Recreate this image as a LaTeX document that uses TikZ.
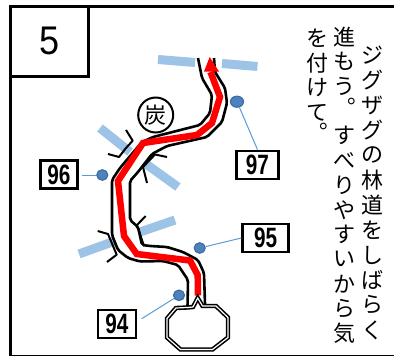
\documentclass[tikz,border=0pt]{standalone}
\usepackage{fontspec}
\usetikzlibrary{arrows.meta,shapes.geometric}
\setmainfont{Liberation Sans}
\newfontfamily\jpfont{Noto Sans CJK JP}
\definecolor{barblue}{HTML}{9DC3E6}
\definecolor{dotfill}{HTML}{4F81BD}
\definecolor{dotline}{HTML}{3A6EA5}
\definecolor{leader}{HTML}{5B9BD5}
\tikzset{
  frameline/.style={draw=black,line width=3pt,line join=miter},
  bar/.style={draw=barblue,line width=9pt},
  roadedge/.style={draw=black,line width=2.6pt,line join=round,rounded corners=2pt},
  tick/.style={draw=black,line width=2pt,line join=round},
  dot/.style={ellipse,fill=dotfill,draw=dotline,line width=1.2pt,inner sep=0pt,minimum width=11pt,minimum height=10.5pt},
  leaderline/.style={draw=leader,line width=1pt},
  numbox/.style={draw=black,line width=2.6pt,fill=white,inner sep=0pt,minimum height=28pt,
     font=\fontsize{28}{28}\selectfont\bfseries},
  vchar/.style={inner sep=0pt,font=\jpfont\fontsize{22}{22}\selectfont},
}
\begin{document}
\begin{tikzpicture}[x=1pt,y=-1pt]
\useasboundingbox (0,0) rectangle (394,356);
\clip (0,0) rectangle (394,356);
% frame
\draw[frameline] (10.5,6) rectangle (402,356.5);
\draw[frameline] (10.5,76) -| (88,6);
\node[font=\fontsize{40}{40}\selectfont] (five) at (50,41) {\scalebox{0.9}[1]{5}};
% blue bars
\draw[bar] (158,59.5) -- (195,62.5);
\draw[bar] (222,63.5) -- (257.5,66.5);
\draw[bar] (100,128) -- (130,152);
\draw[bar] (146,164) -- (178,187);
\draw[bar] (79,254) -- (115,241);
\draw[bar] (140,232) -- (175,220);
% road
\fill[white] (187.5,307) -- (188,280) -- (178,265) -- (163,261) -- (140,261.5) -- (128,258) -- (118,250) -- (112,235) -- (112,180) -- (120,168) -- (142,142) -- (153,137) -- (200,125) -- (210,113) -- (212,95) -- (202,78) -- (198,58) -- (214,58) -- (215,72) -- (225,88) -- (227,103) -- (222,122) -- (207,137) -- (167,146) -- (152,154) -- (138,172) -- (130,181) -- (130,220) -- (138,227) -- (142,245) -- (150,246) -- (167,247) -- (183,252) -- (198,260) -- (204,273) -- (205,304) -- cycle;
\draw[roadedge] (187.5,307) -- (188,280) -- (178,265) -- (163,261) -- (140,261.5) -- (128,258) -- (118,250) -- (112,235) -- (112,180) -- (120,168) -- (142,142) -- (153,137) -- (200,125) -- (210,113) -- (212,95) -- (202,78) -- (198,58);
\draw[roadedge] (214,58) -- (215,72) -- (225,88) -- (227,103) -- (222,122) -- (207,137) -- (167,146) -- (152,154) -- (138,172) -- (130,181) -- (130,220) -- (138,227) -- (142,245) -- (150,246) -- (167,247) -- (183,252) -- (198,260) -- (204,273) -- (205,304);
% red route
\draw[draw=red,line width=6.5pt,line join=miter] (198,295.5) -- (197.7,275) -- (190,260.5) -- (136.7,254) -- (124,236) -- (118,181) -- (143,143) -- (197,135) -- (212,123) -- (220,97) -- (210.5,72);
\fill[red] (209.7,57) -- (219,71.5) -- (204,71.5) -- cycle;
% ticks
\draw[tick] (126,130) -- (132.7,140.7) -- (126,148) -- (119,157) -- (108,154);
\draw[tick] (167,157) -- (155,154.5) -- (143,167) -- (147,183);
\draw[tick] (145.7,216) -- (137,225) -- (144,246);
\draw[tick] (97.7,231) -- (108,234) -- (116.7,254.7) -- (107,262);
% settlement
\node[circle,draw=black,line width=2pt,minimum size=35pt,inner sep=0pt,font=\jpfont\fontsize{22}{22}\selectfont] (sumi) at (155.7,115) {炭};
% pond
\draw[draw=black,line width=1.6pt,double=white,double distance=1.2pt,line join=miter] (187.5,307.5) -- (193,307) -- (197.7,298) -- (202.5,306) -- (216,306) -- (228,317.5) -- (228,337.5) -- (212.5,349.5) -- (180.5,349.5) -- (167,337.5) -- (167,318.5) -- (176,308) -- cycle;
% number boxes
\node[numbox,minimum width=37pt] (n96) at (59,174.5) {\scalebox{0.74}[1]{96}};
\node[numbox,minimum width=42pt] (n97) at (257.5,165) {\scalebox{0.74}[1]{97}};
\node[numbox,minimum width=46pt] (n95) at (265.7,238) {\scalebox{0.74}[1]{95}};
\node[numbox,minimum width=38pt] (n94) at (116.8,324) {\scalebox{0.74}[1]{94}};
% dots and leaders
\node[dot,minimum width=13pt,minimum height=11pt] (d97) at (237,101.7) {};
\node[dot] (d96) at (102.3,175) {};
\node[dot] (d95) at (199.7,248) {};
\node[dot] (d94) at (179,295.3) {};
\coordinate (e96) at (81.7,175);
\coordinate (e94) at (141.7,318.7);
\draw[leaderline] (d97) -- (n97.north);
\draw[leaderline] (d96) -- (e96);
\draw[leaderline] (d95) -- (n95.west);
\draw[leaderline] (d94) -- (e94);
% vertical text
\foreach \c [count=\i from 0] in {ジ,グ,ザ,グ,の,林,道,を,し,ば,ら,く}
  \node[vchar] (a\i) at (372,{55+25*\i}) {\c};
\foreach \c [count=\i from 0] in {進,も,う}
  \node[vchar] (b\i) at (344.3,{37+24.7*\i}) {\c};
\foreach \c [count=\i from 4] in {す,べ,り,や,す,い,か,ら,気}
  \node[vchar] (b\i) at (344.3,{37+24.7*\i}) {\c};
\foreach \c [count=\i from 0] in {を,付,け,て}
  \node[vchar] (c\i) at (317,{38+25*\i}) {\c};
\node[vchar] (stopb) at (351.5,101) {\makebox[0.4em][l]{。}};
\node[vchar] (stopc) at (323.5,126.5) {\makebox[0.4em][l]{。}};
\end{tikzpicture}
\end{document}
